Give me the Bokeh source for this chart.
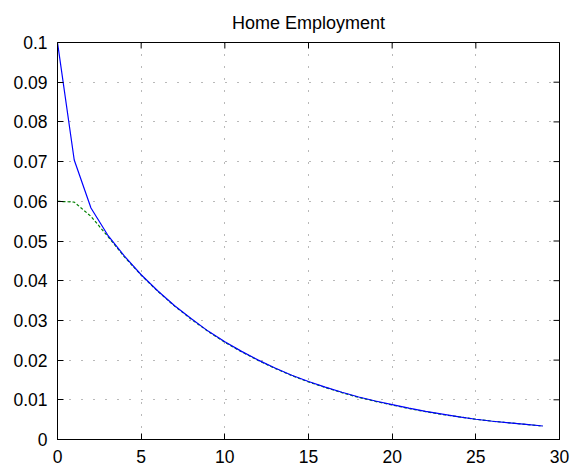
import math
from bokeh.plotting import figure
from bokeh.models import Range1d, FixedTicker
from bokeh.embed import file_html
from bokeh.resources import INLINE

periods = list(range(30))
series_a = [0.1, 0.0704, 0.0583, 0.0515, 0.0462, 0.0415, 0.0374, 0.0337, 0.0304, 0.0273,
            0.0246, 0.0222, 0.0200, 0.0180, 0.0162, 0.0146, 0.0132, 0.0119, 0.0107, 0.0097,
            0.0088, 0.0079, 0.0071, 0.0064, 0.0057, 0.0051, 0.0046, 0.0042, 0.0038, 0.0034]
series_b = [0.0600, 0.0598, 0.0562, 0.0512, 0.0460, 0.0414, 0.0373, 0.0336, 0.0303, 0.0272,
            0.0245, 0.0221, 0.0199, 0.0179, 0.0161, 0.0145, 0.0131, 0.0118, 0.0106, 0.0096,
            0.0087, 0.0078, 0.0070, 0.0063, 0.0057, 0.0051, 0.0046, 0.0042, 0.0038, 0.0034]
x_ticks = [0, 5, 10, 15, 20, 25, 30]
y_ticks = [0, 0.01, 0.02, 0.03, 0.04, 0.05, 0.06, 0.07, 0.08, 0.09, 0.1]
y_labels = ["0", "0.01", "0.02", "0.03", "0.04", "0.05", "0.06", "0.07", "0.08", "0.09", "0.1"]
title = "Home Employment"

FONT = "Liberation Sans"
X_MIN, X_MAX = 0, 30
Y_MIN, Y_MAX = 0, 0.1

p = figure(width=586, height=469, output_backend="svg", toolbar_location=None,
           x_range=Range1d(X_MIN, X_MAX), y_range=Range1d(Y_MIN, Y_MAX),
           min_border_left=57, min_border_right=27, min_border_top=42, min_border_bottom=30,
           title=title)
p.title.align = "center"
p.title.text_font = FONT
p.title.text_font_size = "18px"
p.title.text_font_style = "normal"
p.title.text_color = "black"
p.title.standoff = 19
p.outline_line_color = "black"
p.outline_line_width = 1
p.background_fill_color = "white"
p.border_fill_color = "white"

def style_axis(ax, ticks, standoff):
    ax.ticker = FixedTicker(ticks=ticks)
    ax.major_tick_in = 6
    ax.major_tick_out = 0
    ax.minor_tick_line_color = None
    ax.axis_line_color = "black"
    ax.axis_line_width = 1
    ax.major_tick_line_color = "black"
    ax.major_label_text_font = FONT
    ax.major_label_text_font_size = "17.5px"
    ax.major_label_text_color = "black"
    ax.major_label_standoff = standoff

style_axis(p.xaxis[0], x_ticks, 10)
style_axis(p.yaxis[0], y_ticks, 10)
p.yaxis[0].major_label_overrides = {t: l for t, l in zip(y_ticks, y_labels)}

for g in (p.xgrid[0], p.ygrid[0]):
    g.grid_line_color = "black"
    g.grid_line_alpha = 0.55
    g.grid_line_dash = "1 11"
    g.grid_line_width = 1
p.xgrid[0].ticker = FixedTicker(ticks=x_ticks)
p.ygrid[0].ticker = FixedTicker(ticks=y_ticks)

# tick marks on the top and right edges of the box (half of each dash is clipped by the frame)
p.scatter(x_ticks, [Y_MAX] * len(x_ticks), marker="dash", size=12, angle=math.pi / 2,
          line_color="black", line_width=1)
p.scatter([X_MAX] * len(y_ticks), y_ticks, marker="dash", size=12,
          line_color="black", line_width=1)

p.line(periods, series_b, line_color="#008000", line_width=1.2, line_dash="3 2")
p.line(periods, series_a, line_color="#0000ff", line_width=1.2)

open("out.html", "w").write(file_html(p, INLINE))
